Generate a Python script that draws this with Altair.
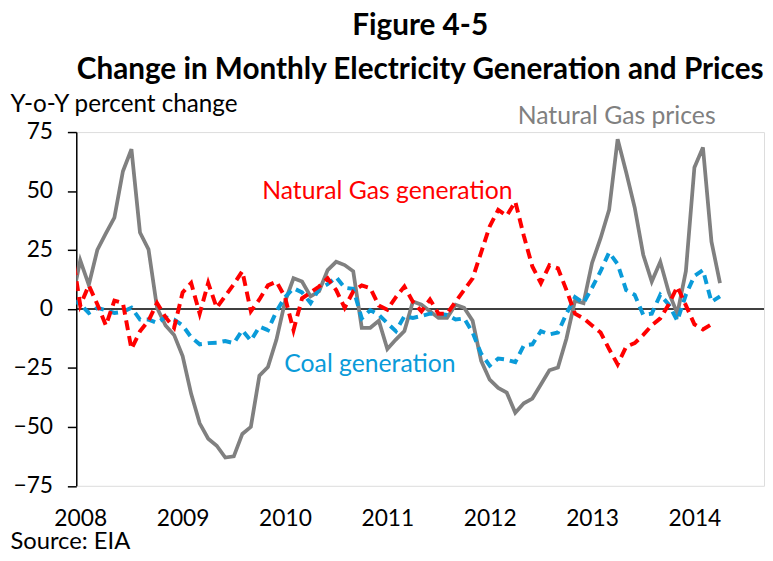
import altair as alt
import pandas as pd

# Monthly values, Dec 2007 .. Apr 2014 (Y-o-Y percent change)
gas_prices = [3, 20.6, 10.2, 25, 32, 38.7, 58.4, 67.7, 32.4, 25.3, 0.5, -7, -11,
              -20, -36, -48.5, -55, -58, -63, -62.5, -53, -50, -28.3, -24.6, -13,
              3, 13, 11.6, 5.3, 7.5, 16.5, 20, 18.6, 16, -8, -8, -5,
              -17, -13, -9.4, 3.2, 1.8, -1, -3.8, -3.8, 1.8, 0.5, -5, -22,
              -30, -33.5, -35.5, -44, -40, -38, -32, -26, -24.8, -12.5, 3.5, 2.5,
              19.5, 30, 42, 72, 58, 43, 23, 11.6, 20, 7, -2, 16,
              60, 68.5, 28.5, 11]
coal_gen = [4, 2, -1.7, 0.5, -0.5, -1.7, -1.2, 0.5, -4.5, -4.5, -5.9, -3.5, -4.5,
            -7, -12, -15, -14.5, -14.3, -13.6, -14.5, -9, -13.5, -7.5, -9, -1,
            5, 8.8, 7, 2.5, 8.5, 10.5, 13.5, 9, 8.5, -4, -0.5, -2.5,
            -6, -9.4, -3.1, -3.8, -3, -2, -2, -2.5, -4.5, -4, -10, -19,
            -24, -21, -21.5, -22.6, -15.5, -15, -9.4, -10.8, -10, -2, 5, 2.5,
            9, 16, 24, 19, 8, 6, -2.5, -2, 6, 1.8, -5, 6,
            14, 16.5, 3, 5.3]
# Dec 2007 .. Mar 2014
gas_gen = [25, 1.5, 10, 2, -7, 3.5, 2.5, -17, -9.5, -5, 2.5, -3.5, -8,
           7, 11, -2, 11, 0.5, 5.5, 10.5, 16, -1, 4, 10, 11.6,
           5, -9, 4.5, 7, 9.5, 13, 8, 0.5, 7.5, 10, 8.8, 1.5,
           -0.3, 5, 9.5, 3, -1, 4, -2, -2, 3, 8, 13, 24,
           35, 42, 39.5, 45.5, 31, 18, 11, 18.5, 17.2, 8, -2, -4,
           -7, -10, -17, -23.5, -16, -14.5, -11, -7, -4, 2, 9.5, 1.5,
           -6.5, -8.7, -6.5]

year_ticks = [2008, 2009, 2010, 2011, 2012, 2013, 2014]
y_ticks = [-75, -50, -25, 0, 25, 50, 75]

label_text = ["Natural Gas prices", "Natural Gas generation", "Coal generation"]
label_t = [2013.24, 2011.0, 2010.83]
label_v = [78.6, 46.6, -26.9]

GRAY = "#808080"
RED = "#FF0000"
BLUE = "#0A9BD9"
FONT = "Lato"


def frame(values, name):
    t = [2008 - 1 / 12 + k / 12 for k in range(len(values))]
    return pd.DataFrame({"t": t, "value": values, "series": name})


df = pd.concat([
    frame(gas_prices, "Natural Gas prices"),
    frame(gas_gen, "Natural Gas generation"),
    frame(coal_gen, "Coal generation"),
])
labels = pd.DataFrame({"text": label_text, "t": label_t, "v": label_v})

xscale = alt.Scale(domain=[2007.961, 2014.68], nice=False, zero=False)
yscale = alt.Scale(domain=[-75, 75], nice=False)

xaxis = alt.Axis(values=year_ticks, format="d", domain=False, ticks=False, grid=False,
                 labelFontSize=23, labelFont=FONT, labelColor="black", labelPadding=22,
                 labelFlush=False,
                 title="Source: EIA", titleFont=FONT, titleFontSize=24,
                 titleFontWeight="normal", titleColor="black", titleAngle=0,
                 titleAlign="left", titleBaseline="alphabetic", titleX=-67, titleY=63)
yaxis = alt.Axis(values=y_ticks, domain=True, domainColor="black", domainWidth=1.5,
                 ticks=True, tickSize=9, tickColor="black", tickWidth=1.5, grid=False,
                 labelFontSize=23, labelFont=FONT, labelColor="black", labelPadding=15,
                 title="Y-o-Y percent change", titleFont=FONT, titleFontSize=24.5,
                 titleFontWeight="normal", titleColor="black", titleAngle=0,
                 titleAlign="left", titleBaseline="alphabetic", titleX=-67, titleY=-20.5)

base = alt.Chart(df)

zero = alt.Chart(pd.DataFrame({"z": [0]})).mark_rule(color="black", strokeWidth=1.5).encode(
    y=alt.Y("z:Q", scale=yscale, axis=yaxis)
)

def series_line(name, color, width, dash=None):
    kw = dict(color=color, strokeWidth=width, clip=True, strokeCap="butt", strokeJoin="miter")
    if dash:
        kw["strokeDash"] = dash
    return base.transform_filter(alt.datum.series == name).mark_line(**kw).encode(
        x=alt.X("t:Q", scale=xscale, axis=xaxis),
        y=alt.Y("value:Q", scale=yscale, axis=yaxis),
    )

gray_line = series_line("Natural Gas prices", GRAY, 3.8)
blue_line = series_line("Coal generation", BLUE, 4, [9, 6])
red_line = series_line("Natural Gas generation", RED, 4, [10, 6])

text = alt.Chart(labels).mark_text(font=FONT, fontSize=25, baseline="alphabetic",
                                   align="center").encode(
    x=alt.X("t:Q", scale=xscale),
    y=alt.Y("v:Q", scale=yscale),
    text="text:N",
    color=alt.Color("text:N", scale=alt.Scale(domain=label_text, range=[GRAY, RED, BLUE]),
                    legend=None),
)

chart = alt.layer(zero, gray_line, blue_line, red_line, text).properties(
    width=695, height=357.5,
    autosize=alt.AutoSizeParams(type="none"),
    padding={"left": 69, "top": 122.5, "right": 1, "bottom": 65},
    title=alt.TitleParams(
        text=["Figure 4-5", "Change in Monthly Electricity Generation and Prices"],
        font=FONT, fontSize=30, fontWeight="bold", color="black",
        anchor="middle", frame="group", offset=7, lineHeight=45,
    ),
).configure_view(stroke=None).configure(background="white")

chart.save("out.html", embed_options={"renderer": "svg", "actions": False})
